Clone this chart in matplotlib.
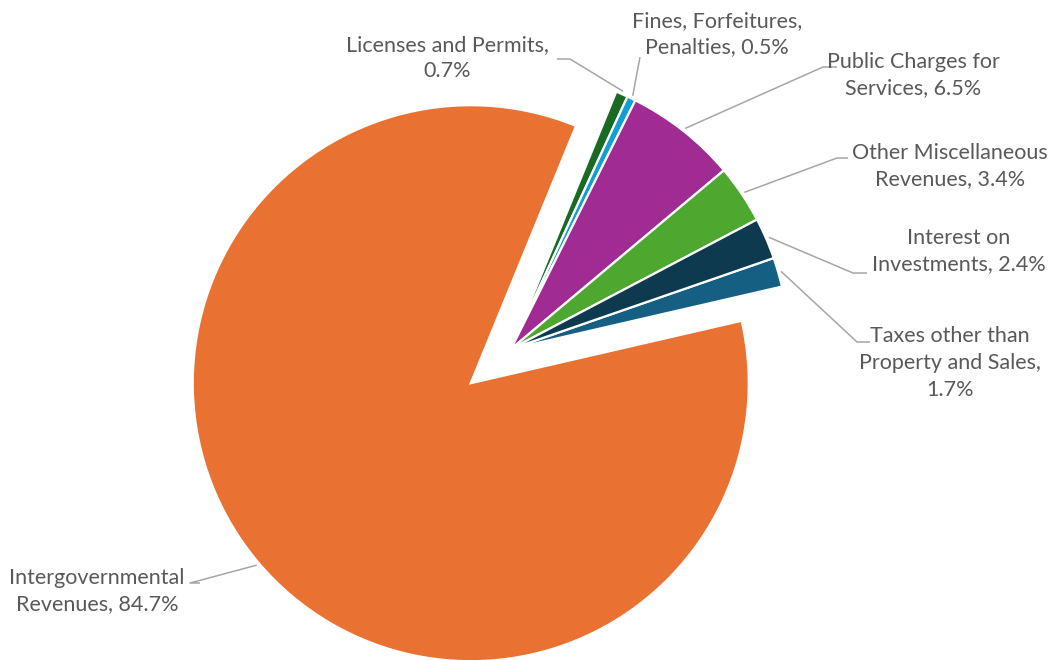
import numpy as np
import matplotlib
matplotlib.use("Agg")
import matplotlib.pyplot as plt

# Revenue sources (series order, clockwise)
categories = [
    "Taxes other than\nProperty and Sales,",
    "Intergovernmental\nRevenues,",
    "Licenses and Permits,",
    "Fines, Forfeitures,\nPenalties,",
    "Public Charges for\nServices,",
    "Other Miscellaneous\nRevenues,",
    "Interest on\nInvestments,",
]
shares = [1.7, 84.7, 0.7, 0.5, 6.5, 3.4, 2.4]
colors = ["#156082", "#E97132", "#196B24", "#0F9ED5", "#A02B93", "#4EA72E", "#0E3A4F"]

W, H = 1058, 660
R = 278
center = (511, H - 349)
# only the large slice is pulled out (offset in data units)
explode = [0, 0.19 * R, 0, 0, 0, 0, 0]
# separator between name and value in each label
value_sep = ["\n", " ", "\n", " ", " ", " ", " "]

fig = plt.figure(figsize=(W / 100, H / 100), dpi=100)
ax = fig.add_axes([0, 0, 1, 1])

wedges, _ = ax.pie(
    shares, colors=colors, explode=explode, radius=R, center=center,
    startangle=19.1, counterclock=False, frame=True,
    wedgeprops=dict(edgecolor="white", linewidth=1.6),
)
ax.set_xlim(0, W)
ax.set_ylim(0, H)
ax.set_aspect("equal")
ax.axis("off")

# label block centres and leader elbow points (image coords, y down)
label_pos = [
    (950, 363),  # Taxes
    (97, 591),   # Intergovernmental
    (447, 58),   # Licenses
    (717, 34),   # Fines
    (913, 75),   # Public charges
    (950, 166),  # Other misc
    (959, 251),  # Interest
]
elbows = [
    [(870, 342), (857, 342)],
    [(200, 583), (190, 583)],
    [(557, 59), (570, 59)],
    [(640, 57)],
    [(837, 67), (823, 67)],
    [(848, 158), (837, 158)],
    [(867, 273), (853, 273)],
]

txt_kw = dict(color="#595959", fontsize=15.5, family=["Lato", "DejaVu Sans"],
              ha="center", va="center", linespacing=1.42, multialignment="center")

for w, cat, val, sep, (lx, ly), elb in zip(wedges, categories, shares, value_sep,
                                           label_pos, elbows):
    ax.text(lx, H - ly, f"{cat}{sep}{val}%", **txt_kw)
    mid = np.deg2rad((w.theta1 + w.theta2) / 2)
    cx, cy = w.center
    sx = cx + (w.r + 3) * np.cos(mid)
    sy = cy + (w.r + 3) * np.sin(mid)
    xs = [sx] + [p[0] for p in elb][::-1]
    ys = [sy] + [H - p[1] for p in elb][::-1]
    ax.plot(xs, ys, color="#A6A6A6", lw=1.1, solid_capstyle="butt", zorder=0)

fig.savefig("out.png", dpi=100, facecolor="white")
